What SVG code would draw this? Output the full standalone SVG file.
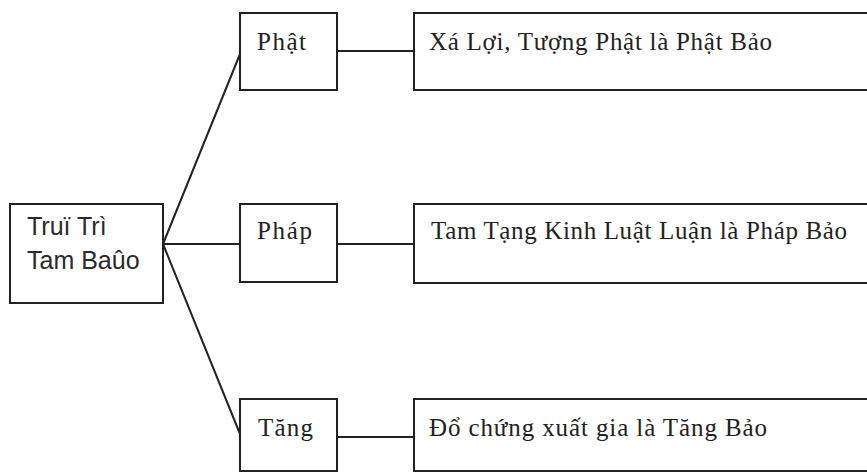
<svg xmlns="http://www.w3.org/2000/svg" width="867" height="473" viewBox="0 0 867 473">
  <style>
    .box { fill: #ffffff; stroke: #222222; stroke-width: 2; }
    .conn { fill: none; stroke: #222222; stroke-width: 2; }
    .sans { font-family: "Liberation Sans", Arial, sans-serif; font-size: 25px; fill: #2a2a2a; }
    .serif { font-family: "Liberation Serif", "Times New Roman", serif; font-size: 25px; fill: #222222; }
  </style>
  <rect x="0" y="0" width="867" height="473" fill="#ffffff"/>
  <g id="connectors">
    <line class="conn" x1="163" y1="244" x2="240" y2="54"/>
    <line class="conn" x1="163" y1="244" x2="240" y2="244"/>
    <line class="conn" x1="163" y1="244" x2="240" y2="434"/>
    <line class="conn" x1="337" y1="51" x2="414" y2="51"/>
    <line class="conn" x1="337" y1="244" x2="414" y2="244"/>
    <line class="conn" x1="337" y1="437" x2="414" y2="437"/>
  </g>
  <g id="root">
    <rect class="box" x="10" y="204" width="153" height="99"/>
    <text class="sans" x="27" y="235">Truï Trì</text>
    <text class="sans" x="27" y="269">Tam Baûo</text>
  </g>
  <g id="phat">
    <rect class="box" x="240" y="13" width="97" height="77"/>
    <text class="serif" x="257" y="50" textLength="49" lengthAdjust="spacing">Phật</text>
  </g>
  <g id="phap">
    <rect class="box" x="240" y="204" width="97" height="78"/>
    <text class="serif" x="257" y="239" textLength="55" lengthAdjust="spacing">Pháp</text>
  </g>
  <g id="tang">
    <rect class="box" x="240" y="399" width="97" height="72"/>
    <text class="serif" x="258" y="436" textLength="55" lengthAdjust="spacing">Tăng</text>
  </g>
  <g id="phat-bao">
    <rect class="box" x="414" y="13" width="460" height="77"/>
    <text class="serif" x="429" y="50" textLength="343" lengthAdjust="spacing">Xá Lợi, Tượng Phật là Phật Bảo</text>
  </g>
  <g id="phap-bao">
    <rect class="box" x="414" y="204" width="460" height="79"/>
    <text class="serif" x="431" y="239" textLength="416" lengthAdjust="spacing">Tam Tạng Kinh Luật Luận là Pháp Bảo</text>
  </g>
  <g id="tang-bao">
    <rect class="box" x="414" y="399" width="460" height="72"/>
    <text class="serif" x="429" y="436" textLength="338" lengthAdjust="spacing">Đổ chứng xuất gia là Tăng Bảo</text>
  </g>
</svg>
